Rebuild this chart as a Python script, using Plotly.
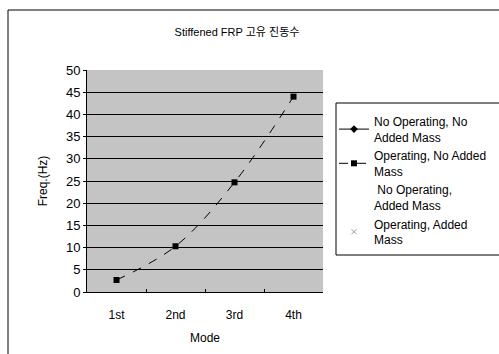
import plotly.graph_objects as go

modes = ["1st", "2nd", "3rd", "4th"]
no_op_no_mass = [None, None, None, None]
op_no_mass = [2.7, 10.3, 24.7, 44.0]
no_op_mass = [None, None, None, None]
op_mass = [None, None, None, None]
y_ticks = [0, 5, 10, 15, 20, 25, 30, 35, 40, 45, 50]

W, H = 499, 354
L, R, T, B = 87, 323, 70, 292

def px(x):
    return (x - L) / (R - L)

def py(y):
    return (B - y) / (B - T)

FONT = "Liberation Sans, Arial, Noto Sans CJK KR, sans-serif"

fig = go.Figure()
fig.add_trace(go.Scatter(x=modes, y=no_op_no_mass, name="No Operating, No<br>Added Mass",
                         mode="lines+markers", line=dict(color="black", width=1),
                         marker=dict(symbol="diamond", size=6, color="black")))
fig.add_trace(go.Scatter(x=modes, y=op_no_mass, name="Operating, No Added<br>Mass",
                         mode="lines+markers",
                         line=dict(color="black", width=1, dash="dash", shape="spline"),
                         marker=dict(symbol="square", size=6, color="black")))
fig.add_trace(go.Scatter(x=modes, y=no_op_mass, name=" No Operating,<br>Added Mass",
                         mode="lines", line=dict(color="rgba(0,0,0,0)", width=1)))
fig.add_trace(go.Scatter(x=modes, y=op_mass, name="Operating, Added<br>Mass",
                         mode="markers", marker=dict(symbol="x-thin-open", size=5, color="#999999",
                                                     line=dict(color="#999999", width=1))))

shapes = [
    # outer chart frame
    dict(type="rect", xref="paper", yref="paper", x0=px(8), x1=px(520), y0=py(10), y1=py(370),
         line=dict(color="black", width=1), fillcolor="rgba(0,0,0,0)", layer="below"),
    # legend frame
    dict(type="rect", xref="paper", yref="paper", x0=px(336), x1=px(520), y0=py(103), y1=py(255),
         line=dict(color="black", width=1), fillcolor="rgba(0,0,0,0)"),
]

fig.update_layout(
    width=W, height=H,
    margin=dict(l=L, r=W - R, t=T, b=H - B, autoexpand=False),
    paper_bgcolor="white", plot_bgcolor="#c4c4c4",
    font=dict(family=FONT, size=12, color="black"),
    title=dict(text="Stiffened FRP 고유 진동수", x=px(237), xref="paper", xanchor="center",
               y=1 - 32 / H, yanchor="middle", font=dict(size=11)),
    xaxis=dict(range=[-0.5, 3.5], showgrid=False, showline=True, linecolor="black", linewidth=1,
               mirror=False, ticks="inside", tickson="boundaries", ticklen=3, tickcolor="black",
               tickfont=dict(size=12), ticklabelstandoff=12,
               title=dict(text="Mode", font=dict(size=12), standoff=12)),
    yaxis=dict(range=[0, 50], tickvals=y_ticks, showgrid=True, gridcolor="black", gridwidth=1,
               showline=True, linecolor="black", linewidth=1, ticks="outside", ticklen=3,
               tickcolor="black", tickfont=dict(size=13), zeroline=False,
               title=dict(text="Freq.(Hz)", font=dict(size=12), standoff=15)),
    legend=dict(x=px(334), y=py(107), xanchor="left", yanchor="top", xref="paper", yref="paper",
                bgcolor="rgba(0,0,0,0)", borderwidth=0, font=dict(size=12),
                tracegroupgap=0, itemwidth=30),
    showlegend=True,
    shapes=shapes,
)

fig.write_html("out.html")
